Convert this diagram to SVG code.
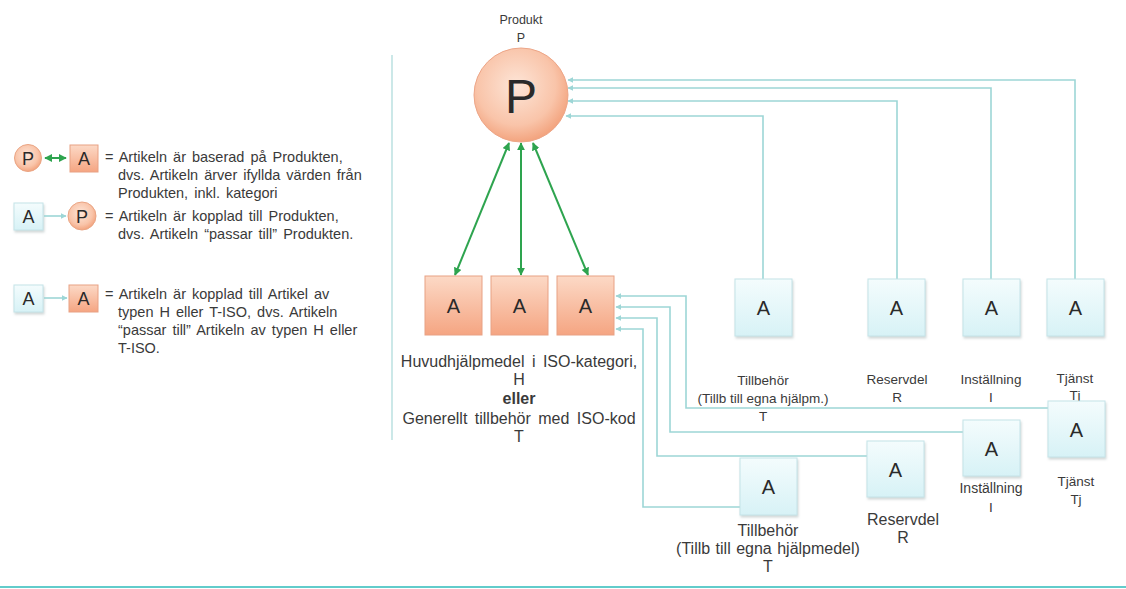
<svg xmlns="http://www.w3.org/2000/svg" width="1126" height="589" viewBox="0 0 1126 589">
<style>
text{font-family:"Liberation Sans",Arial,sans-serif;fill:#3a3a3a;font-size:13.5px}
.lbl{text-anchor:middle}
.lg{font-size:16px;word-spacing:3px}
.big{font-size:20px;text-anchor:middle;fill:#2a2a2a}
.sm{font-size:18px}
.leg{font-size:14.5px;word-spacing:2px}
.or{fill:url(#og);stroke:#e8a184;stroke-width:1}
.bl{fill:url(#bg);stroke:#c4e3e8;stroke-width:1;filter:url(#sh)}
.con{fill:none;stroke:#9dd6d6;stroke-width:1.6}
.grn{fill:none;stroke:#2ea44f;stroke-width:2}
</style>
<defs>
<linearGradient id="og" x1="0" y1="0" x2="0" y2="1"><stop offset="0" stop-color="#fcd9c6"/><stop offset="1" stop-color="#f5a582"/></linearGradient>
<linearGradient id="bg" x1="0" y1="0" x2="0" y2="1"><stop offset="0" stop-color="#f4fcfd"/><stop offset="1" stop-color="#d7f2f6"/></linearGradient>
<radialGradient id="cg" cx="0.45" cy="0.4" r="0.6"><stop offset="0" stop-color="#fde5d7"/><stop offset="0.7" stop-color="#f9c4a9"/><stop offset="1" stop-color="#f3a47f"/></radialGradient>
<filter id="sh" x="-20%" y="-20%" width="150%" height="150%"><feDropShadow dx="1" dy="2" stdDeviation="1.2" flood-color="#9aa" flood-opacity="0.45"/></filter>
<marker id="ga" viewBox="0 0 10 10" refX="9" refY="5" markerWidth="4" markerHeight="4" orient="auto-start-reverse"><path d="M0,0 L10,5 L0,10 z" fill="#2ea44f"/></marker>
<marker id="ta" viewBox="0 0 10 10" refX="9" refY="5" markerWidth="3.5" markerHeight="3.5" orient="auto"><path d="M0,0 L10,5 L0,10 z" fill="#9dd6d6"/></marker>
</defs>
<rect width="1126" height="589" fill="#ffffff"/>
<line x1="392" y1="55" x2="392" y2="440" stroke="#a9d9d9" stroke-width="1.2"/>
<line x1="0" y1="587" x2="1126" y2="587" stroke="#62cccb" stroke-width="2"/>

<g id="legend">
<circle cx="28" cy="158" r="13.5" fill="url(#cg)" stroke="#eaa584"/>
<text class="big sm" x="28" y="165">P</text>
<line x1="45" y1="158" x2="66" y2="158" class="grn" stroke-width="1.6" marker-start="url(#ga)" marker-end="url(#ga)"/>
<rect class="or" x="70" y="145" width="28" height="27"/>
<text class="big sm" x="84" y="165">A</text>
<text class="leg" x="105" y="162">= Artikeln är baserad på Produkten,</text>
<text class="leg" x="118" y="180">dvs. Artikeln ärver ifyllda värden från</text>
<text class="leg" x="118" y="198">Produkten,  inkl.  kategori</text>

<rect class="bl" x="14" y="203" width="29" height="27"/>
<text class="big sm" x="28.5" y="223">A</text>
<line x1="44" y1="216" x2="66" y2="216" class="con" stroke-width="1.2" marker-end="url(#ta)"/>
<circle cx="82" cy="216" r="14" fill="url(#cg)" stroke="#eaa584"/>
<text class="big sm" x="82" y="223">P</text>
<text class="leg" x="105" y="221">= Artikeln är kopplad till Produkten,</text>
<text class="leg" x="118" y="239">dvs. Artikeln “passar till” Produkten.</text>

<rect class="bl" x="14" y="285" width="29" height="27"/>
<text class="big sm" x="28.5" y="305">A</text>
<line x1="44" y1="298" x2="67" y2="298" class="con" stroke-width="1.2" marker-end="url(#ta)"/>
<rect class="or" x="69" y="285" width="29" height="27"/>
<text class="big sm" x="83.5" y="305">A</text>
<text class="leg" x="105" y="299">= Artikeln är kopplad till Artikel av</text>
<text class="leg" x="118" y="317">typen H eller T-ISO, dvs. Artikeln</text>
<text class="leg" x="118" y="335">“passar till” Artikeln av typen H eller</text>
<text class="leg" x="118" y="353">T-ISO.</text>
</g>

<g id="connectors">
<path class="con" d="M1075,279 V80 H568" marker-end="url(#ta)"/>
<path class="con" d="M991,279 V88 H568" marker-end="url(#ta)"/>
<path class="con" d="M897,279 V101 H568" marker-end="url(#ta)"/>
<path class="con" d="M763,279 V116 H566" marker-end="url(#ta)"/>
<path class="con" d="M1048,408 H686 V296 H616" marker-end="url(#ta)"/>
<path class="con" d="M963,432 H670 V307 H616" marker-end="url(#ta)"/>
<path class="con" d="M867,456 H657 V318 H616" marker-end="url(#ta)"/>
<path class="con" d="M740,507 H643 V329 H616" marker-end="url(#ta)"/>
<line class="grn" x1="509" y1="143" x2="455" y2="275" marker-start="url(#ga)" marker-end="url(#ga)"/>
<line class="grn" x1="521" y1="143" x2="521" y2="275" marker-start="url(#ga)" marker-end="url(#ga)"/>
<line class="grn" x1="533" y1="143" x2="588" y2="275" marker-start="url(#ga)" marker-end="url(#ga)"/>
</g>

<g id="produkt">
<circle cx="521" cy="95" r="47" fill="url(#cg)" stroke="#eda688" stroke-width="1"/>
<text class="lbl" x="521" y="113" style="font-size:48px;fill:#2a2a2a">P</text>
<text class="lbl" x="521" y="24" style="font-size:12.5px">Produkt</text>
<text class="lbl" x="521" y="42" style="font-size:12.5px">P</text>
</g>

<g id="huvud-1"><rect class="or" x="425" y="276" width="57" height="59"/><text class="big" x="453.5" y="313">A</text></g>
<g id="huvud-2"><rect class="or" x="491" y="276" width="57" height="59"/><text class="big" x="519.5" y="313">A</text></g>
<g id="huvud-3"><rect class="or" x="557" y="276" width="57" height="59"/><text class="big" x="585.5" y="313">A</text></g>
<g id="huvud-label">
<text class="lbl lg" x="519" y="367">Huvudhjälpmedel i ISO-kategori,</text>
<text class="lbl lg" x="519" y="385">H</text>
<text class="lbl lg" x="519" y="404" style="font-weight:bold">eller</text>
<text class="lbl lg" x="519" y="424">Generellt tillbehör med ISO-kod</text>
<text class="lbl lg" x="519" y="442">T</text>
</g>

<g id="tillbehor-p"><rect class="bl" x="735" y="279" width="57" height="57"/><text class="big" x="763.5" y="315">A</text>
<text class="lbl" x="763" y="385">Tillbehör</text><text class="lbl" x="763" y="403">(Tillb till egna hjälpm.)</text><text class="lbl" x="763" y="421">T</text></g>
<g id="reservdel-p"><rect class="bl" x="868" y="279" width="57" height="57"/><text class="big" x="896.5" y="315">A</text>
<text class="lbl" x="897" y="384">Reservdel</text><text class="lbl" x="897" y="402">R</text></g>
<g id="installning-p"><rect class="bl" x="963" y="279" width="57" height="57"/><text class="big" x="991.5" y="315">A</text>
<text class="lbl" x="991" y="384">Inställning</text><text class="lbl" x="991" y="402">I</text></g>
<g id="tjanst-p"><rect class="bl" x="1047" y="279" width="57" height="57"/><text class="big" x="1075.5" y="315">A</text>
<text class="lbl" x="1075" y="383">Tjänst</text><text class="lbl" x="1075" y="400">Tj</text></g>

<g id="tjanst-a"><rect class="bl" x="1048" y="401" width="57" height="56"/><text class="big" x="1076.5" y="437">A</text>
<text class="lbl" x="1076" y="486">Tjänst</text><text class="lbl" x="1076" y="504">Tj</text></g>
<g id="installning-a"><rect class="bl" x="963" y="420" width="57" height="56"/><text class="big" x="991.5" y="456">A</text>
<text class="lbl" x="991" y="493" style="font-size:14px">Inställning</text><text class="lbl" x="991" y="512">I</text></g>
<g id="reservdel-a"><rect class="bl" x="867" y="441" width="57" height="56"/><text class="big" x="895.5" y="477">A</text>
<text class="lbl lg" x="903" y="525">Reservdel</text><text class="lbl lg" x="903" y="543">R</text></g>
<g id="tillbehor-a"><rect class="bl" x="740" y="458" width="57" height="57"/><text class="big" x="768.5" y="494">A</text>
<text class="lbl lg" x="768" y="536">Tillbehör</text><text class="lbl lg" x="768" y="554" style="word-spacing:1px">(Tillb till egna hjälpmedel)</text><text class="lbl lg" x="768" y="572">T</text></g>
</svg>
